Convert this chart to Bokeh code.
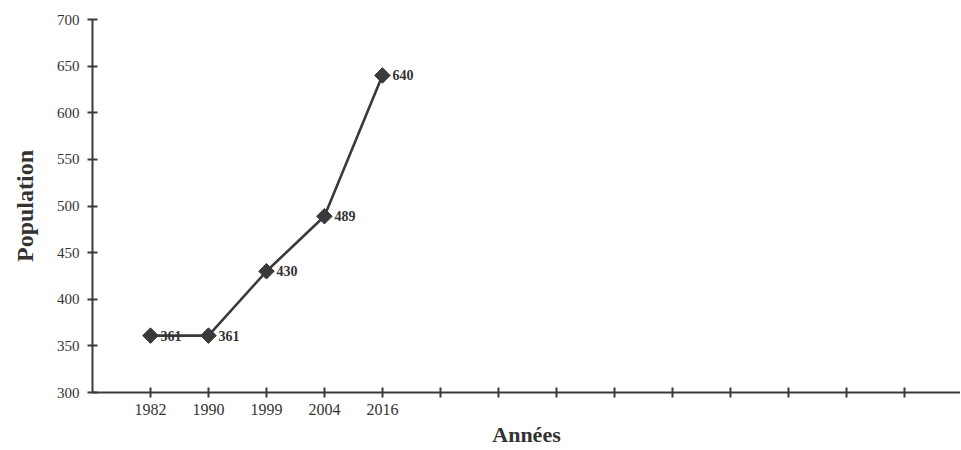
import math
from bokeh.plotting import figure
from bokeh.models import ColumnDataSource, FixedTicker, Range1d
from bokeh.embed import file_html
from bokeh.resources import INLINE
from bokeh.core.properties import value

# ---- data ----
years = ["1982", "1990", "1999", "2004", "2016"]
population = [361, 361, 430, 489, 640]
x_tick_count = 14          # number of tick marks drawn on the x axis
y_ticks = [300, 350, 400, 450, 500, 550, 600, 650, 700]

positions = list(range(1, len(years) + 1))
labels = [str(v) for v in population]
src = ColumnDataSource(dict(x=positions, y=population, lab=labels))

SERIF = "Liberation Serif"
INK = "#3a3a3a"

p = figure(width=960, height=449, output_backend="svg", toolbar_location=None,
           x_range=Range1d(0, 14.97), y_range=Range1d(300, 700),
           min_border_left=92, min_border_top=19, min_border_right=0,
           min_border_bottom=57)
p.outline_line_color = None
p.xgrid.visible = False
p.ygrid.visible = False
p.background_fill_color = "white"
p.border_fill_color = "white"

p.line("x", "y", source=src, line_color=INK, line_width=2.6)
p.scatter("x", "y", source=src, marker="square", angle=math.pi / 4, size=11,
          fill_color=INK, line_color=INK)
p.text("x", "y", text="lab", source=src, x_offset=10, text_baseline="middle",
       text_font=value(SERIF), text_font_style="bold", text_font_size="14px",
       text_color="#333333")

# x axis
ticks_x = list(range(1, x_tick_count + 1))
p.xaxis.ticker = FixedTicker(ticks=ticks_x)
p.xaxis.major_label_overrides = {t: (years[t - 1] if t <= len(years) else "") for t in ticks_x}
p.xaxis.axis_label = "Années"
p.xaxis.axis_label_text_font = SERIF
p.xaxis.axis_label_text_font_style = "bold"
p.xaxis.axis_label_text_font_size = "22px"
p.xaxis.axis_label_text_color = "#333333"
p.xaxis.axis_label_standoff = 4
p.xaxis.major_label_standoff = 6
p.xaxis.major_label_text_font = SERIF
p.xaxis.major_label_text_font_size = "16px"
p.xaxis.major_label_text_color = "#333333"

# y axis
p.yaxis.ticker = FixedTicker(ticks=y_ticks)
p.yaxis.axis_label = "Population"
p.yaxis.axis_label_text_font = SERIF
p.yaxis.axis_label_text_font_style = "bold"
p.yaxis.axis_label_text_font_size = "24px"
p.yaxis.axis_label_text_color = "#333333"
p.yaxis.axis_label_standoff = 16
p.yaxis.major_label_standoff = 8
p.yaxis.major_label_text_font = SERIF
p.yaxis.major_label_text_font_size = "15px"
p.yaxis.major_label_text_color = "#333333"

for ax in (p.xaxis, p.yaxis):
    ax.axis_line_color = INK
    ax.axis_line_width = 2
    ax.major_tick_line_color = INK
    ax.major_tick_line_width = 2
    ax.major_tick_in = 5
    ax.major_tick_out = 5
    ax.minor_tick_line_color = None

open("out.html", "w").write(file_html(p, INLINE))
